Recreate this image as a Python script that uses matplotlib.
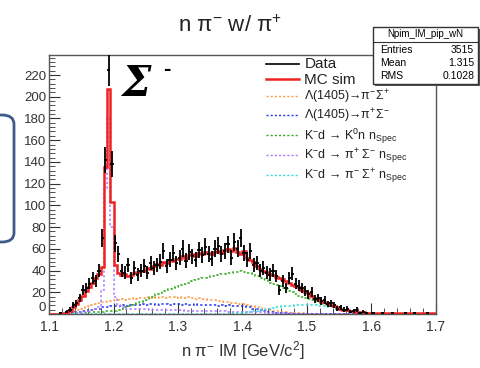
import numpy as np
import matplotlib
matplotlib.use('Agg')
import matplotlib.pyplot as plt
from matplotlib.patches import Rectangle, FancyBboxPatch
from matplotlib.ticker import MultipleLocator
from matplotlib.lines import Line2D

plt.rcParams['font.family'] = ['Liberation Sans', 'DejaVu Sans']
plt.rcParams['mathtext.fontset'] = 'custom'
plt.rcParams['mathtext.rm'] = 'Liberation Sans'
plt.rcParams['mathtext.it'] = 'Liberation Sans:italic'
plt.rcParams['mathtext.bf'] = 'Liberation Sans:bold'

# histogram binning: 120 bins, 1.1 - 1.7 GeV/c^2
edges = np.linspace(1.1, 1.7, 121)

data = [0, 0, 0, 1, 0, 2, 4, 8, 10, 15,
        22, 24, 28, 33, 30, 40, 70, 142, 225, 138,
        65, 55, 40, 38, 45, 33, 42, 36, 40, 44,
        38, 47, 42, 45, 48, 58, 44, 50, 56, 47,
        52, 60, 49, 57, 53, 50, 59, 54, 62, 55,
        51, 60, 63, 55, 58, 64, 52, 66, 60, 70,
        56, 50, 58, 45, 47, 40, 42, 38, 36, 40,
        35, 22, 30, 24, 33, 37, 28, 26, 24, 21,
        18, 20, 14, 15, 12, 13, 9, 10, 8, 5,
        6, 4, 5, 2, 3, 4, 1, 2, 1, 0,
        1, 0, 0, 1, 0, 0, 1, 0, 0, 0,
        1, 0, 0, 1, 0, 0, 0, 1, 0, 0]

mc_sim = [0, 0, 0, 0, 0.5, 1, 3, 6, 9, 13,
          17, 21, 25, 29, 33, 37, 43, 135, 207, 103,
          45, 38, 36, 37, 35, 36, 38, 39, 40, 40,
          42, 41, 44, 46, 45, 48, 47, 50, 49, 51,
          51, 53, 52, 54, 55, 53, 56, 55, 57, 56,
          55, 57, 58, 56, 59, 60, 58, 61, 57, 55,
          58, 52, 50, 48, 44, 41, 40, 39, 37, 36,
          34, 33, 32, 30, 29, 27, 26, 25, 22, 20,
          19, 17, 15, 14, 12, 11, 10, 8, 7, 6,
          5, 4, 4, 3, 3, 2, 2, 1.5, 1, 1,
          0.5, 0.5, 0.5, 0.5, 0.5, 0.5, 0.5, 0.5, 0.5, 0.5,
          0.5, 0.5, 0.5, 0.5, 0.5, 0.5, 0.5, 0.5, 0.5, 0.5]

lam_pimsigp = [0, 0, 0, 0, 0, 0, 1, 2, 3, 4,
               5, 6, 7, 8, 9, 10, 11, 11, 12, 12,
               13, 13, 14, 13, 14, 14, 15, 14, 15, 15,
               16, 15, 16, 15, 16, 16, 15, 16, 16, 15,
               16, 15, 15, 16, 15, 14, 15, 14, 14, 13,
               13, 13, 12, 12, 11, 11, 10, 10, 9, 9,
               9, 8, 7, 7, 6, 6, 5, 4, 4, 3,
               3, 2, 2, 1.5, 1, 1, 0.5, 0.5, 0.5, 0.3] + [0] * 40

lam_pipsigm = [0, 0, 0, 0, 0, 0, 0.5, 1, 2, 2,
               3, 3, 4, 4, 5, 5, 6, 6, 6, 7,
               7, 7, 7, 8, 7, 8, 8, 8, 8, 9,
               8, 9, 9, 8, 9, 9, 9, 8, 9, 9,
               9, 8, 9, 8, 8, 9, 8, 8, 8, 8,
               8, 8, 7, 8, 7, 8, 7, 7, 7, 7,
               7, 6, 6, 5, 5, 4, 3, 3, 2, 2,
               1, 1, 0.5, 0.5, 0.3, 0.2, 0, 0, 0, 0] + [0] * 40

k0nn = [0, 0, 0, 0, 0, 0, 0, 0.5, 0.5, 1,
        1, 1, 1.5, 1.5, 2, 2, 2, 2.5, 2.5, 3,
        3, 4, 5, 6, 7, 8, 9, 10, 11, 12,
        13, 15, 16, 18, 19, 21, 22, 23, 24, 25,
        26, 27, 28, 29, 30, 31, 32, 33, 33, 34,
        35, 35, 36, 37, 37, 38, 38, 39, 39, 40,
        39, 38, 38, 37, 35, 33, 32, 31, 29, 28,
        27, 26, 24, 23, 21, 20, 18, 17, 16, 15,
        14, 13, 12, 11, 10, 9, 8, 7, 6, 5,
        4, 3.5, 3, 2.5, 2, 1.5, 1.2, 1, 0.8, 0.6] + [0.4] * 20

pipsigm_n = [0, 0, 0, 0, 0, 0, 0, 0, 1, 1,
             2, 2, 3, 4, 5, 6, 22, 115, 180, 80,
             16, 8, 6, 6, 5, 5, 5, 5, 5, 5,
             5, 4, 4, 4, 4, 4, 4, 4, 4, 4,
             4, 4, 3, 3, 3, 3, 3, 3, 3, 3,
             3, 3, 3, 3, 3, 2, 2, 2, 2, 2,
             2, 2, 2, 2, 1.5, 1.5, 1.5, 1, 1, 1,
             1, 1, 0.5, 0.5, 0.5, 0.5, 0.3, 0.3, 0.2, 0.2] + [0] * 40

pimsigp_n = [0] * 56 + [0.3, 0.5, 0.5, 1,
                        1, 1.5, 2, 2.5, 3, 3.5, 4, 4.5, 5, 5.5,
                        6, 6.5, 7, 7, 7.5, 7.5, 8, 8, 8, 8,
                        8, 8, 8, 7.5, 7, 7, 6.5, 6, 5.5, 5,
                        4.5, 4, 3.5, 3, 2.5, 2, 1.5, 1, 1, 0.5] + [0.2] * 20

legend_labels = ['Data', 'MC sim',
                 'Λ(1405)→π$^{-}$Σ$^{+}$',
                 'Λ(1405)→π$^{+}$Σ$^{-}$',
                 'K$^{-}$d → K$^{0}$n n$_{\\rm Spec}$',
                 'K$^{-}$d → π$^{+}$ Σ$^{-}$ n$_{\\rm Spec}$',
                 'K$^{-}$d → π$^{-}$ Σ$^{+}$ n$_{\\rm Spec}$']
comp_colors = ['#ff9944', '#2233ee', '#33aa22', '#aa77ff', '#33dddd']

fig = plt.figure(figsize=(4.81, 3.68), dpi=100)
ax = fig.add_axes([0.102, 0.1467, 0.804, 0.7038])

centers = 0.5 * (edges[1:] + edges[:-1])
d = np.array(data, dtype=float)
nz = d > 0

comps = [lam_pimsigp, lam_pipsigm, k0nn, pipsigm_n, pimsigp_n]
for c, col in zip(comps, comp_colors):
    ax.stairs(c, edges, color=col, lw=1.1, ls=(0, (1.5, 1.5)), zorder=2)
ax.stairs(mc_sim, edges, color='#ee2222', lw=1.8, zorder=3)
ax.errorbar(centers[nz], d[nz], yerr=np.sqrt(d[nz]), xerr=0.0025,
            fmt='none', ecolor='black', elinewidth=1.3, zorder=4)

ax.set_xlim(1.1, 1.7)
ax.set_ylim(0, 238.4)
ax.xaxis.set_major_locator(MultipleLocator(0.1))
ax.xaxis.set_minor_locator(MultipleLocator(0.02))
ax.yaxis.set_major_locator(MultipleLocator(20))
ax.yaxis.set_minor_locator(MultipleLocator(4))
ax.tick_params(which='both', direction='in', top=False, right=False,
               labelsize=9.5, colors='#333333', pad=2)
ax.tick_params(axis='x', pad=4, labelsize=10)
ax.tick_params(which='major', length=8)
ax.tick_params(which='minor', length=4)
ax.set_xticks(np.arange(1.1, 1.71, 0.1))
ax.set_xticklabels(['1.1', '1.2', '1.3', '1.4', '1.5', '1.6', '1.7'])
ax.set_yticks(np.arange(0, 221, 20))
# lift the "0" label a little so it clears the "1.1" below it
ax.yaxis.get_major_ticks()[0].label1.set_verticalalignment('bottom')
for s in ax.spines.values():
    s.set_color('#555555')
    s.set_linewidth(1.0)

ax.set_xlabel('n π$^{-}$ IM [GeV/c$^{2}$]', fontsize=12, color='#333333',
              labelpad=4)

fig.text(0.478, 0.928, 'n π$^{-}$ w/ π$^{+}$', fontsize=16,
         ha='center', va='center', color='#222222')

# Sigma- label
fig.text(0.253, 0.772, 'Σ', fontsize=30, style='italic', weight='bold',
         family=['DejaVu Serif'], ha='left', va='center')
fig.text(0.340, 0.81, '-', fontsize=16, weight='bold', ha='left', va='center')

# legend
handles = [Line2D([], [], color='black', lw=1.2),
           Line2D([], [], color='#ee2222', lw=1.8)]
for col in comp_colors:
    handles.append(Line2D([], [], color=col, lw=1.0, ls=(0, (1.5, 1.5))))
leg = fig.legend(handles, legend_labels, loc='upper left',
                 bbox_to_anchor=(0.542, 0.858), frameon=False,
                 handlelength=2.7, handletextpad=0.4, labelspacing=0.1,
                 fontsize=9, borderaxespad=0)
for i, t in enumerate(leg.get_texts()):
    t.set_color('#222222')
    if i < 2:
        t.set_fontsize(11)

# stats box
bx0, by0, bw, bh = 373 / 481, 1 - 84 / 368, 105 / 481, 57 / 368
fig.patches.append(Rectangle((bx0 + 0.004, by0 - 0.005), bw, bh,
                             transform=fig.transFigure, facecolor='#555555',
                             edgecolor='none', zorder=9))
fig.patches.append(Rectangle((bx0, by0), bw, bh, transform=fig.transFigure,
                             facecolor='white', edgecolor='#333333', lw=1,
                             zorder=10))
fig.lines.append(Line2D([bx0, bx0 + bw], [by0 + bh * 0.74] * 2,
                        transform=fig.transFigure, color='#333333', lw=0.8,
                        zorder=11))
fig.text(bx0 + bw / 2, by0 + bh * 0.87, 'Npim_IM_pip_wN', fontsize=7,
         ha='center', va='center', zorder=12)
rows = [('Entries', '3515'), ('Mean', '1.315'), ('RMS', '0.1028')]
for k, (name, val) in enumerate(rows):
    yy = by0 + bh * (0.60 - 0.23 * k)
    fig.text(bx0 + 0.015, yy, name, fontsize=7.5, ha='left', va='center',
             zorder=12)
    fig.text(bx0 + bw - 0.008, yy, val, fontsize=7.5, ha='right', va='center',
             zorder=12)

# partial rounded box at the left edge
fig.patches.append(FancyBboxPatch((-40 / 481, 1 - 242 / 368), 54 / 481,
                                  127 / 368,
                                  boxstyle='round,pad=0,rounding_size=0.025',
                                  transform=fig.transFigure, facecolor='none',
                                  edgecolor='#3d5a88', lw=2.0))

fig.savefig('out.png', dpi=100)
